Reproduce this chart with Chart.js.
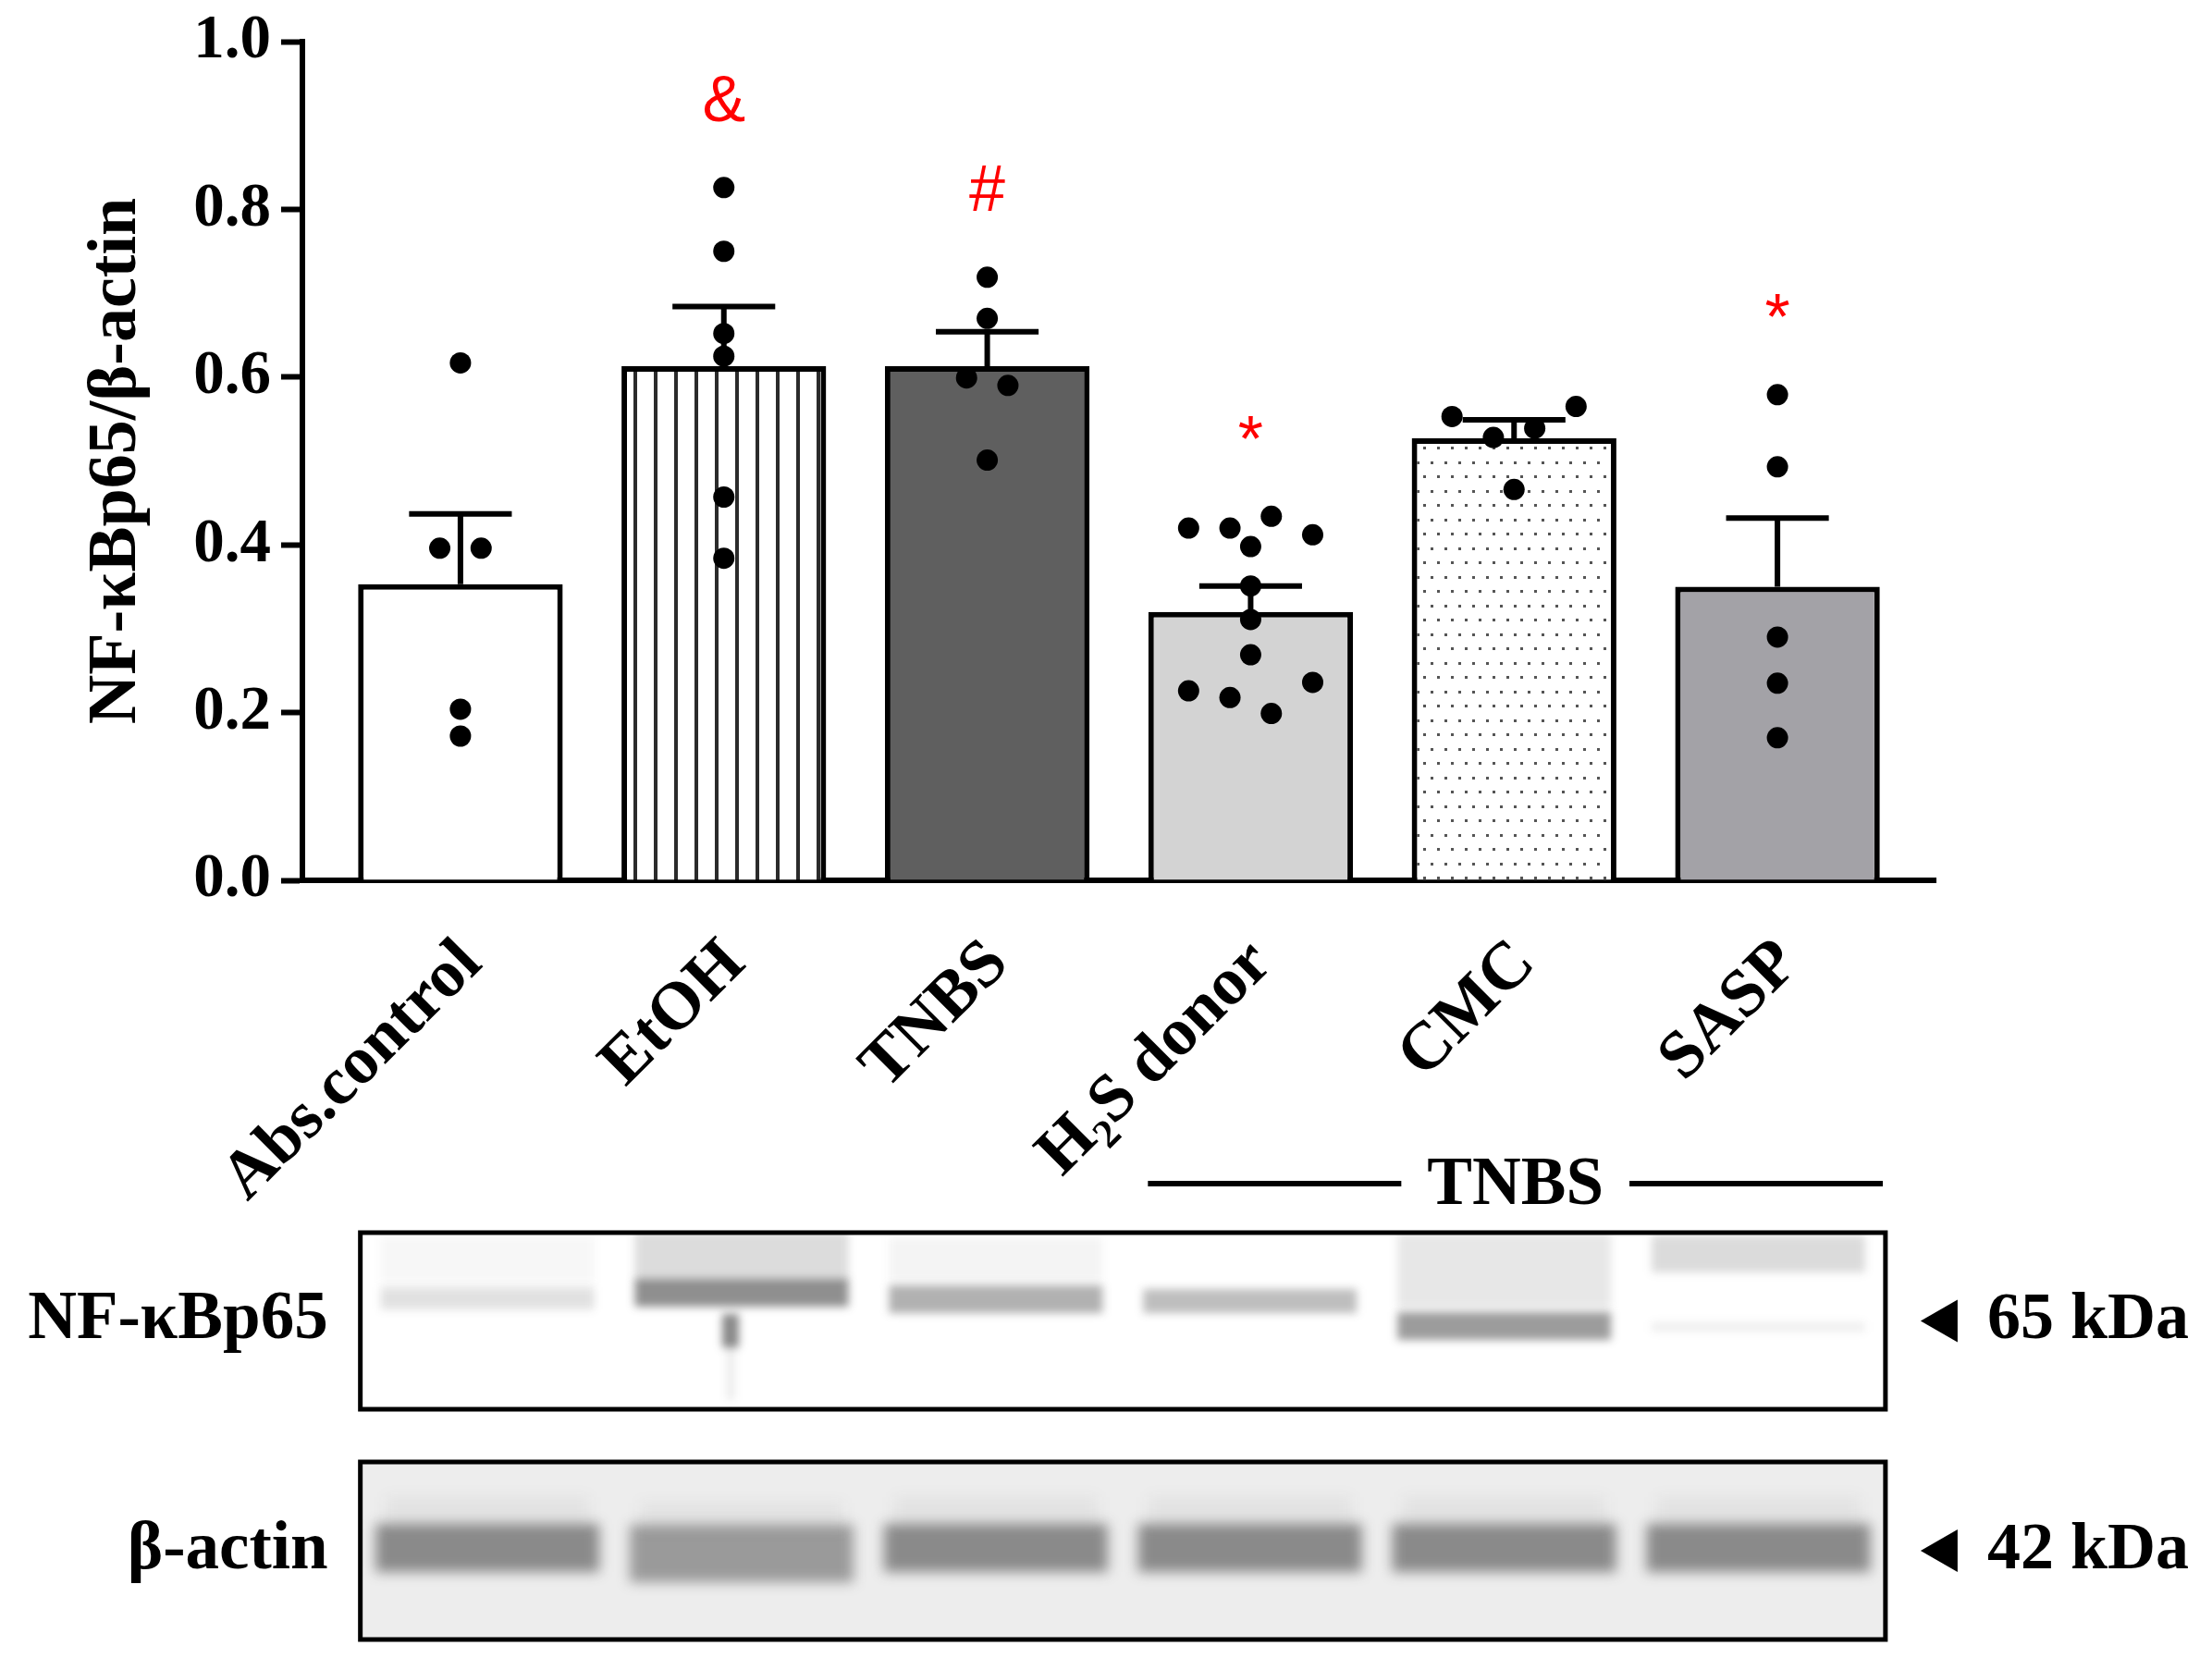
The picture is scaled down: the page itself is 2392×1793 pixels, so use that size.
<!DOCTYPE html>
<html>
<head>
<meta charset="utf-8">
<script src="https://cdn.jsdelivr.net/npm/chart.js@4.4.1/dist/chart.umd.min.js"></script>
<style>
  html, body { margin: 0; padding: 0; background: #fff; }
  #wrap { width: 2392px; height: 1793px; }
</style>
</head>
<body>
<div id="wrap"><canvas id="nfkbChart" width="2392" height="1793"></canvas></div>
<script>
// groups on the x axis
const groups = ["Abs.control", "EtOH", "TNBS", "H\u2082S donor", "CMC", "SASP"];
// bar heights (mean) and upper error (SEM)
const means = [0.353, 0.613, 0.613, 0.320, 0.527, 0.350];
const sem = [0.084, 0.071, 0.041, 0.031, 0.022, 0.082];
// individual animals
const absControl = [0.617, 0.396, 0.396, 0.204, 0.172];
const etoh = [0.826, 0.750, 0.652, 0.625, 0.457, 0.384];
const tnbs = [0.719, 0.670, 0.599, 0.590, 0.501];
const h2sDonor = [0.420, 0.420, 0.434, 0.412, 0.398, 0.351, 0.311, 0.269, 0.226, 0.218, 0.199, 0.236];
const cmc = [0.553, 0.528, 0.539, 0.565, 0.466];
const sasp = [0.579, 0.493, 0.290, 0.235, 0.170];
const dots = [absControl, etoh, tnbs, h2sDonor, cmc, sasp];
// significance marks
const marks = ["", "&", "#", "*", "", "*"];
const yTicks = [0, 0.2, 0.4, 0.6, 0.8, 1.0];

const SERIF = "'Liberation Serif', 'Times New Roman', serif";
const SANS = "'Liberation Sans', Arial, sans-serif";

// spread dots that sit at about the same height side by side (GraphPad style)
function swarm(values, center) {
  const rows = [];
  values.forEach(v => {
    const row = rows[rows.length - 1];
    if (row && row.length < 4 && row.some(u => Math.abs(u - v) < 0.026)) row.push(v);
    else rows.push([v]);
  });
  const pts = [];
  rows.forEach(row => row.forEach((v, k) => {
    pts.push({ x: center + (k - (row.length - 1) / 2) * 0.157, y: v });
  }));
  return pts;
}

function stripes() {
  const c = document.createElement("canvas");
  c.width = 22; c.height = 22;
  const g = c.getContext("2d");
  g.fillStyle = "#fff"; g.fillRect(0, 0, 22, 22);
  g.fillStyle = "#2b2b2b"; g.fillRect(3, 0, 4, 22);
  return g.createPattern(c, "repeat");
}

function speckle() {
  const c = document.createElement("canvas");
  c.width = 30; c.height = 31;
  const g = c.getContext("2d");
  g.fillStyle = "#fff"; g.fillRect(0, 0, 30, 31);
  g.fillStyle = "#555";
  [[2, 3], [17, 3], [9, 18], [24, 18]].forEach(p => g.fillRect(p[0], p[1], 3, 3));
  return g.createPattern(c, "repeat");
}

const barFill = ["#ffffff", stripes(), "#5f5f5f", "#d3d3d3", speckle(), "#a3a2a7"];

const errorBars = {
  id: "errorBars",
  afterDatasetDraw(chart, args) {
    if (args.index !== 0) return;
    const { ctx, scales: { x, y } } = chart;
    ctx.save();
    ctx.strokeStyle = "#000";
    ctx.lineWidth = 6;
    const half = x.getPixelForValue(0.195) - x.getPixelForValue(0);
    means.forEach((m, i) => {
      const cx = x.getPixelForValue(i);
      const y0 = y.getPixelForValue(m);
      const y1 = y.getPixelForValue(m + sem[i]);
      ctx.beginPath();
      ctx.moveTo(cx, y0); ctx.lineTo(cx, y1);
      ctx.moveTo(cx - half, y1); ctx.lineTo(cx + half, y1);
      ctx.stroke();
    });
    ctx.restore();
  }
};

const markLabels = {
  id: "markLabels",
  afterDatasetsDraw(chart) {
    const { ctx, scales: { x, y } } = chart;
    ctx.save();
    ctx.fillStyle = "#ff0000";
    ctx.font = "70px " + SANS;
    ctx.textAlign = "center";
    ctx.textBaseline = "alphabetic";
    marks.forEach((m, i) => {
      if (!m) return;
      const top = Math.max(...dots[i], means[i] + sem[i]);
      const cy = y.getPixelForValue(top) - 96;
      const tm = ctx.measureText(m);
      const base = cy + (tm.actualBoundingBoxAscent - tm.actualBoundingBoxDescent) / 2;
      ctx.fillText(m, x.getPixelForValue(i), base);
    });
    ctx.restore();
  }
};

// western blot panel under the graph
const blotLayout = {
  boxFrom: -0.38, boxTo: 5.41,
  p65: { top: 1333, bottom: 1524, label: "NF-\u03baBp65", kda: "65 kDa" },
  actin: { top: 1581, bottom: 1773, label: "\u03b2-actin", kda: "42 kDa" },
  groupFrom: 2.61, groupTo: 5.40, groupY: 1280
};
// per lane: [centre y, height, darkness]
const p65Bands = [
  [[1404, 24, 0.14], [1362, 50, 0.04]],
  [[1398, 30, 0.52], [1358, 52, 0.16]],
  [[1405, 30, 0.36], [1362, 48, 0.05]],
  [[1407, 26, 0.3]],
  [[1434, 30, 0.46], [1374, 80, 0.11]],
  [[1356, 40, 0.17], [1435, 10, 0.08]]
];

function band(ctx, cx, cy, w, h, dark, blur) {
  ctx.save();
  ctx.filter = "blur(" + blur + "px)";
  ctx.fillStyle = "rgba(40,40,40," + dark + ")";
  ctx.fillRect(cx - w / 2, cy - h / 2, w, h);
  ctx.restore();
}

const blotPanel = {
  id: "blotPanel",
  afterDraw(chart) {
    const { ctx, scales: { x } } = chart;
    const L = blotLayout;
    const left = x.getPixelForValue(L.boxFrom);
    const right = x.getPixelForValue(L.boxTo);
    const laneW = (right - left) / groups.length;
    ctx.save();

    // TNBS bracket
    const gl = x.getPixelForValue(L.groupFrom);
    const gr = x.getPixelForValue(L.groupTo);
    const gc = (gl + gr) / 2;
    ctx.font = "bold 73px " + SERIF;
    ctx.fillStyle = "#000";
    ctx.textAlign = "center";
    ctx.textBaseline = "middle";
    ctx.fillText("TNBS", gc, L.groupY + 3);
    const tw = ctx.measureText("TNBS").width / 2 + 28;
    ctx.strokeStyle = "#000";
    ctx.lineWidth = 6;
    ctx.beginPath();
    ctx.moveTo(gl, L.groupY); ctx.lineTo(gc - tw, L.groupY);
    ctx.moveTo(gc + tw, L.groupY); ctx.lineTo(gr, L.groupY);
    ctx.stroke();

    [L.p65, L.actin].forEach((b, k) => {
      ctx.save();
      ctx.beginPath();
      ctx.rect(left, b.top, right - left, b.bottom - b.top);
      ctx.fillStyle = k === 0 ? "#ffffff" : "#ededed";
      ctx.fill();
      ctx.clip();
      groups.forEach((g, i) => {
        const cx = left + (i + 0.5) * laneW;
        if (k === 0) {
          p65Bands[i].forEach(s => band(ctx, cx, s[0], laneW * 0.84, s[1], s[2], 5));
          if (i === 1) {
            band(ctx, cx - 12, 1439, 18, 36, 0.55, 5);
            band(ctx, cx - 12, 1484, 10, 60, 0.08, 4);
          }
        } else {
          const tall = i === 1 ? 62 : 52;
          const cy = i === 1 ? 1680 : 1674;
          band(ctx, cx, cy, laneW * 0.88, tall, i === 1 ? 0.42 : 0.5, 7);
          band(ctx, cx, cy - 40, laneW * 0.8, 30, 0.05, 8);
        }
      });
      ctx.restore();
      ctx.strokeStyle = "#000";
      ctx.lineWidth = 5;
      ctx.strokeRect(left, b.top, right - left, b.bottom - b.top);

      const mid = (b.top + b.bottom) / 2;
      ctx.font = "bold 73px " + SERIF;
      ctx.fillStyle = "#000";
      ctx.textBaseline = "middle";
      ctx.textAlign = "right";
      ctx.fillText(b.label, left - 35, mid);
      // arrowhead pointing at the band, then the size
      const ax = right + 38;
      ctx.beginPath();
      ctx.moveTo(ax, mid);
      ctx.lineTo(ax + 40, mid - 23);
      ctx.lineTo(ax + 40, mid + 23);
      ctx.closePath();
      ctx.fill();
      ctx.font = "bold 72px " + SERIF;
      ctx.textAlign = "left";
      ctx.fillText(b.kda, ax + 72, mid);
    });
    ctx.restore();
  }
};

Chart.defaults.font.family = SERIF;
Chart.defaults.color = "#000";

new Chart(document.getElementById("nfkbChart"), {
  type: "bar",
  data: {
    datasets: [
      {
        label: "mean",
        data: means.map((m, i) => ({ x: i, y: m })),
        backgroundColor: barFill,
        borderColor: "#000",
        borderWidth: 6,
        barPercentage: 0.777,
        categoryPercentage: 1,
        order: 2
      },
      {
        type: "scatter",
        label: "animals",
        data: dots.flatMap((d, i) => swarm(d, i)),
        backgroundColor: "#000",
        borderWidth: 0,
        pointRadius: 11.5,
        pointHoverRadius: 11.5,
        order: 1
      }
    ]
  },
  options: {
    responsive: false,
    animation: false,
    devicePixelRatio: 1,
    events: [],
    layout: { padding: { top: 45, left: 0, right: 299, bottom: 0 } },
    plugins: { legend: { display: false }, tooltip: { enabled: false } },
    scales: {
      x: {
        type: "linear",
        offset: false,
        min: -0.6,
        max: 5.6,
        afterBuildTicks: s => { s.ticks = groups.map((g, i) => ({ value: i })); },
        afterFit: s => { s.height = 841; s.paddingLeft = 0; s.paddingRight = 0; },
        grid: { display: false, offset: false },
        border: { display: true, color: "#000", width: 6 },
        ticks: {
          autoSkip: false,
          minRotation: 45,
          maxRotation: 45,
          padding: 40,
          labelOffset: 12,
          font: { size: 73, weight: "bold" },
          callback: v => groups[v] ?? ""
        }
      },
      y: {
        min: 0,
        max: 1,
        afterBuildTicks: s => { s.ticks = yTicks.map(v => ({ value: v })); },
        afterFit: s => { s.width = 327; s.paddingTop = 0; s.paddingBottom = 0; },
        grid: { drawOnChartArea: false, drawTicks: true, tickLength: 23, tickWidth: 6, tickColor: "#000" },
        border: { display: true, color: "#000", width: 6 },
        ticks: {
          padding: 11,
          font: { size: 67, weight: "bold" },
          callback: v => v.toFixed(1)
        },
        title: {
          display: true,
          text: "NF-\u03baBp65/\u03b2-actin",
          font: { size: 74, weight: "bold" },
          padding: { top: 82, bottom: 0 }
        }
      }
    }
  },
  plugins: [errorBars, markLabels, blotPanel]
});
</script>
</body>
</html>
